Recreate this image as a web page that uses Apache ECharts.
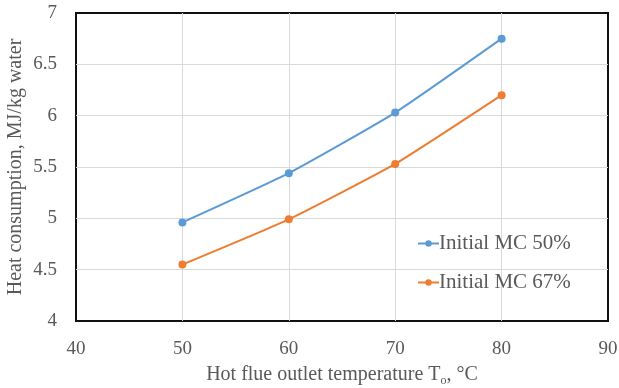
<!DOCTYPE html>
<html>
<head>
<meta charset="utf-8">
<script src="https://cdn.jsdelivr.net/npm/echarts@6/dist/echarts.min.js"></script>
<style>
  html, body { margin: 0; padding: 0; background: #fff; }
  #chart { width: 619px; height: 388px; }
</style>
</head>
<body>
<div id="chart"></div>
<script>
// Outlet temperature (°C) and heat consumption (MJ/kg water)
const temperatures = [50, 60, 70, 80];
const mc50 = [4.96, 5.44, 6.03, 6.75];
const mc67 = [4.55, 4.99, 5.53, 6.20];
const seriesNames = ['Initial MC 50%', 'Initial MC 67%'];

const font = '"Liberation Serif", "Times New Roman", serif';
const textColor = '#595959';

const chart = echarts.init(document.getElementById('chart'), null, { renderer: 'canvas' });

const pairs = arr => temperatures.map((t, i) => [t, arr[i]]);

chart.setOption({
  animation: false,
  grid: {
    left: 76, right: 11, top: 13, bottom: 67,
    outerBoundsMode: 'none',
    show: true, borderColor: '#111', borderWidth: 2, containLabel: false
  },
  legend: {
    orient: 'vertical',
    left: 412, top: 228,
    itemWidth: 21, itemHeight: 8, itemGap: 18,
    textStyle: { fontFamily: font, fontSize: 21, color: textColor, padding: [0, 0, 0, -5] },
    data: seriesNames
  },
  xAxis: {
    type: 'value', min: 40, max: 90, interval: 10,
    axisLine: { show: false }, axisTick: { show: false },
    splitLine: { showMinLine: false, showMaxLine: false, lineStyle: { color: '#d9d9d9', width: 1 } },
    axisLabel: { fontFamily: font, fontSize: 19, color: textColor, margin: 19 },
    name: '{a|Hot flue outlet temperature T}{s|o}{a|, °C}',
    nameLocation: 'middle', nameGap: 42,
    nameTextStyle: {
      rich: {
        a: { fontFamily: font, fontSize: 20, color: textColor },
        s: { fontFamily: font, fontSize: 12, color: textColor, verticalAlign: 'bottom', padding: [12, 0, 0, 0] }
      }
    }
  },
  yAxis: {
    type: 'value', min: 4, max: 7, interval: 0.5,
    axisLine: { show: false }, axisTick: { show: false },
    splitLine: { showMinLine: false, showMaxLine: false, lineStyle: { color: '#d9d9d9', width: 1 } },
    axisLabel: { fontFamily: font, fontSize: 19, color: textColor, margin: 19 },
    name: 'Heat consumption, MJ/kg water',
    nameLocation: 'middle', nameGap: 50, nameMoveOverlap: false,
    nameTextStyle: { fontFamily: font, fontSize: 20, color: textColor }
  },
  series: [
    {
      name: seriesNames[0], type: 'line', data: pairs(mc50), smooth: 0.15,
      symbol: 'circle', symbolSize: 8,
      itemStyle: { color: '#5B9BD5' }, lineStyle: { color: '#5B9BD5', width: 2 }
    },
    {
      name: seriesNames[1], type: 'line', data: pairs(mc67), smooth: 0.15,
      symbol: 'circle', symbolSize: 8,
      itemStyle: { color: '#ED7D31' }, lineStyle: { color: '#ED7D31', width: 2 }
    }
  ]
});
</script>
</body>
</html>
